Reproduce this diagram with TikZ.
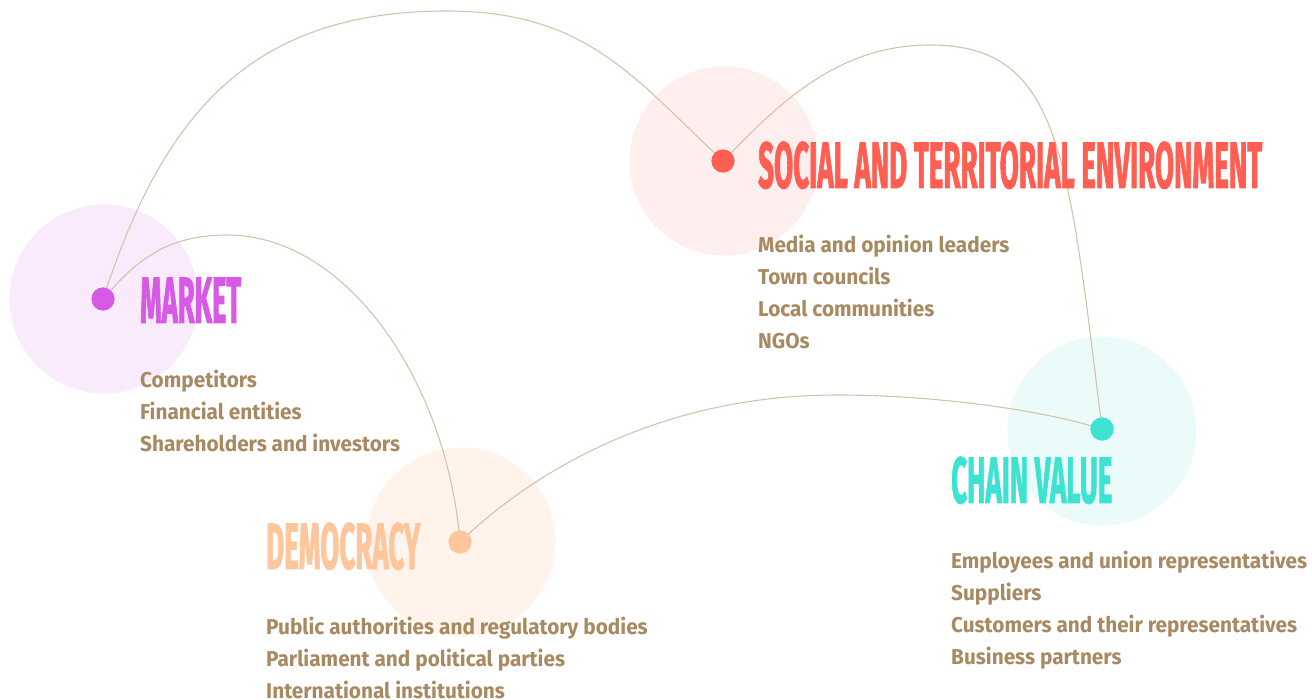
\documentclass[tikz,border=0pt]{standalone}
\usepackage{graphicx}
\usepackage{fontspec}
\setmainfont{Fira Sans}
\newfontfamily\bodyfont{Fira Sans}[FakeStretch=0.966]
\newfontfamily\titlefont{Fira Sans}[BoldFeatures={FakeBold=2}]
\definecolor{txt}{HTML}{A88A62}
\definecolor{conncol}{HTML}{D3C3AD}
\definecolor{cred}{HTML}{FF5F52}
\definecolor{cmag}{HTML}{D75AE6}
\definecolor{cpeach}{HTML}{FFC59B}
\definecolor{cteal}{HTML}{3DE3D0}
\definecolor{bgred}{HTML}{FFEEEE}
\definecolor{bgmag}{HTML}{F9EBFC}
\definecolor{bgpeach}{HTML}{FFF3EB}
\definecolor{bgteal}{HTML}{EAFBF9}
\tikzset{
  bigc/.style={circle, draw=none, minimum size=189pt, inner sep=0pt},
  dotc/.style={circle, draw=none, minimum size=23pt, inner sep=0pt},
  conn/.style={draw=conncol, line width=1.1pt},
  ttl/.style={anchor=south west, inner sep=0pt},
  item/.style={anchor=base west, inner sep=0pt, text=txt, font=\bodyfont\bfseries\fontsize{21.5}{24}\selectfont},
}
\newcommand{\ttltext}[3]{\resizebox{#1pt}{#2pt}{\titlefont\bfseries #3}}
\begin{document}
\begin{tikzpicture}[x=1pt,y=-1pt]
\useasboundingbox (0,0) rectangle (1312,699);
\fill[white] (0,0) rectangle (1312,699);
% background circles
\node[bigc, fill=bgred] (scirc) at (724,161) {};
\node[bigc, fill=bgmag] (mcirc) at (104,299) {};
\node[bigc, fill=bgpeach] (dcirc) at (461,542) {};
\node[bigc, fill=bgteal] (ccirc) at (1102,431) {};
% dots
\node[dotc, fill=cred] (sdot) at (723,161) {};
\node[dotc, fill=cmag] (mdot) at (103,299) {};
\node[dotc, fill=cpeach] (ddot) at (460,542) {};
\node[dotc, fill=cteal] (cdot) at (1102,429) {};
% connectors
\draw[conn] (mdot.center) .. controls (162,118) and (247,11) .. (447,11)
   .. controls (587,11) and (635,79) .. (sdot.center);
\draw[conn] (sdot.center) .. controls (776,107) and (835,45) .. (930,45)
   .. controls (1060,45) and (1068,152) .. (cdot.center);
\draw[conn] (mdot.center) .. controls (133,265) and (162,235) .. (227,235)
   .. controls (347,235) and (447,382) .. (ddot.center);
\draw[conn] (ddot.center) .. controls (539,466) and (667,395) .. (837,395)
   .. controls (927,395) and (1035,408) .. (cdot.center);
% redraw dots on top of connectors
\node[dotc, fill=cred] at (sdot) {};
\node[dotc, fill=cmag] at (mdot) {};
\node[dotc, fill=cpeach] at (ddot) {};
\node[dotc, fill=cteal] at (cdot) {};
% titles
\node[ttl, text=cred] (stitle) at (758,189) {\ttltext{504}{46}{SOCIAL AND TERRITORIAL ENVIRONMENT}};
\node[ttl, text=cmag] (mtitle) at (140,323) {\ttltext{101}{45}{MARKET}};
\node[ttl, text=cpeach] (dtitle) at (266,570) {\ttltext{154}{46}{DEMOCRACY}};
\node[ttl, text=cteal] (ctitle) at (951,504) {\ttltext{161}{46}{CHAIN VALUE}};
% items
\node[item] (s1) at (758,252) {Media and opinion leaders};
\node[item] (s2) at (758,284) {Town councils};
\node[item] (s3) at (758,316) {Local communities};
\node[item] (s4) at (758,348) {NGOs};
\node[item] (m1) at (140,387) {Competitors};
\node[item] (m2) at (140,419) {Financial entities};
\node[item] (m3) at (140,451) {Shareholders and investors};
\node[item] (d1) at (266,634) {Public authorities and regulatory bodies};
\node[item] (d2) at (266,666) {Parliament and political parties};
\node[item] (d3) at (266,698) {International institutions};
\node[item] (c1) at (951,568) {Employees and union representatives};
\node[item] (c2) at (951,600) {Suppliers};
\node[item] (c3) at (951,632) {Customers and their representatives};
\node[item] (c4) at (951,664) {Business partners};
\end{tikzpicture}
\end{document}
